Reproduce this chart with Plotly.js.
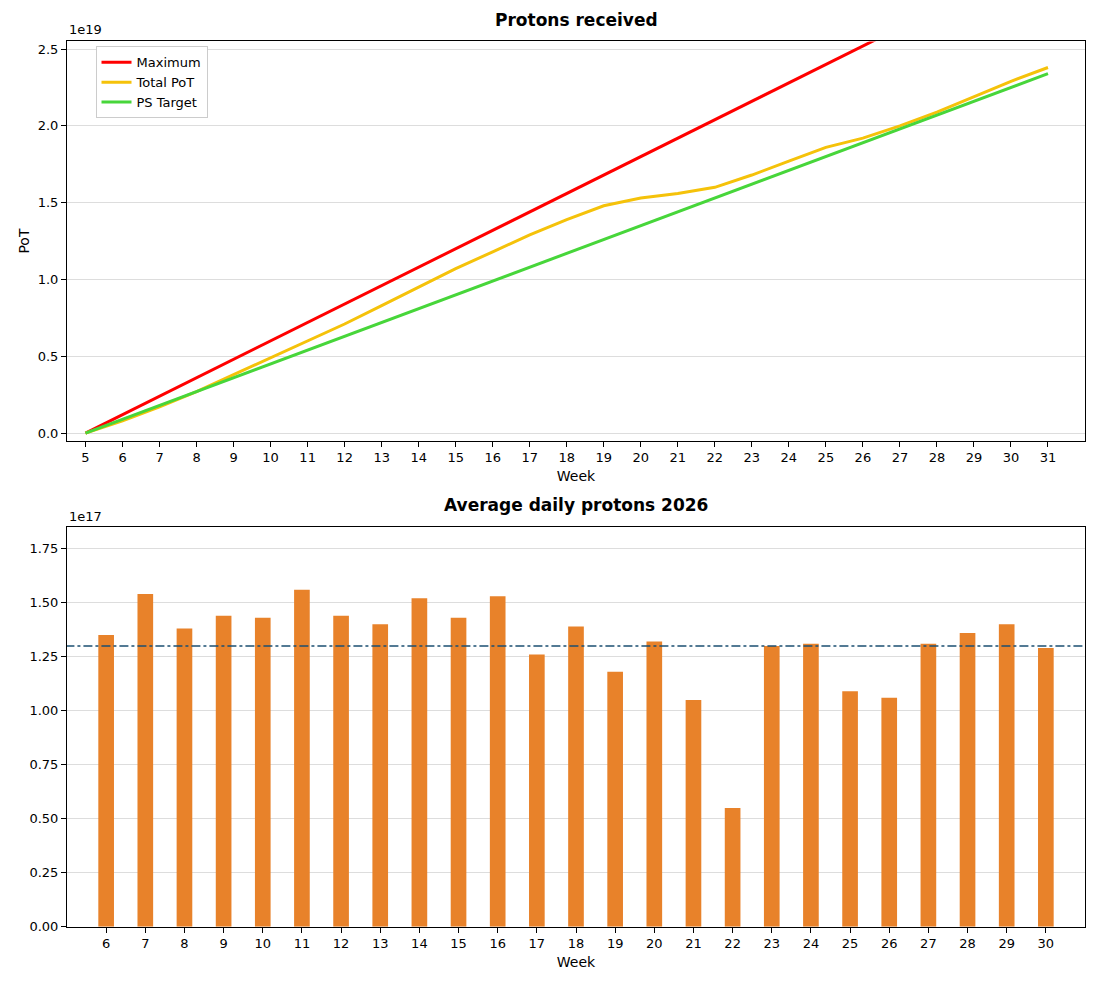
<!DOCTYPE html>
<html><head><meta charset="utf-8">
<script src="https://cdn.plot.ly/plotly-3.0.1.min.js"></script>
<style>body{margin:0}</style></head>
<body><div id="chart" style="width:1100px;height:986px"></div>
<script>
// cumulative PoT, units of 1e19
const weeks = [5,6,7,8,9,10,11,12,13,14,15,16,17,18,19,20,21,22,23,24,25,26,27,28,29,30,31];
const maximum = [0,0.12,0.24,0.36,0.48,0.60,0.72,0.84,0.96,1.08,1.20,1.32,1.44,1.56,1.68,1.80,1.92,2.04,2.16,2.28,2.40,2.52,2.64,2.76,2.88,3.00,3.12];
const totalPot = [0,0.08,0.17,0.27,0.38,0.49,0.60,0.71,0.83,0.95,1.07,1.18,1.29,1.39,1.48,1.53,1.56,1.60,1.68,1.77,1.86,1.92,2.00,2.09,2.19,2.29,2.38];
const psTarget = [0,0.09,0.18,0.27,0.36,0.45,0.54,0.63,0.72,0.81,0.90,0.99,1.08,1.17,1.26,1.35,1.44,1.53,1.62,1.71,1.80,1.89,1.98,2.07,2.16,2.25,2.34];

// average daily protons, units of 1e17
const barWeeks = [6,7,8,9,10,11,12,13,14,15,16,17,18,19,20,21,22,23,24,25,26,27,28,29,30];
const daily = [1.35,1.54,1.38,1.44,1.43,1.56,1.44,1.40,1.52,1.43,1.53,1.26,1.39,1.18,1.32,1.05,0.55,1.30,1.31,1.09,1.06,1.31,1.36,1.40,1.29];
const target = 1.30;

const line = (y, name, color) => ({x: weeks, y: y, name: name, type: 'scatter', mode: 'lines',
  line: {color: color, width: 3}, xaxis: 'x', yaxis: 'y'});

const data = [
  line(maximum, 'Maximum', '#ff0000'),
  line(totalPot, 'Total PoT', '#f5c20a'),
  line(psTarget, 'PS Target', '#47d63a'),
  {x: barWeeks, y: daily, type: 'bar', width: 0.4, marker: {color: '#e8822a'},
   xaxis: 'x2', yaxis: 'y2', showlegend: false},
  {x: [4.5, 31.5], y: [target, target], type: 'scatter', mode: 'lines',
   line: {color: '#1b4f72', width: 1.5, dash: 'dashdot'}, xaxis: 'x2', yaxis: 'y2', showlegend: false}
];

const ax = {showline: true, mirror: true, linecolor: 'black', ticks: 'outside', tickcolor: 'black',
  zeroline: false, tickfont: {size: 13, color: 'black'}};
const layout = {
  width: 1100, height: 986, margin: {l: 67, r: 15, t: 0, b: 0},
  paper_bgcolor: 'white', plot_bgcolor: 'white',
  font: {family: 'DejaVu Sans', color: 'black'},
  xaxis: Object.assign({}, ax, {domain: [0, 1], range: [4.5, 32], tickmode: 'array', tickvals: weeks,
    showgrid: false, anchor: 'y', title: {text: 'Week', font: {size: 14}, standoff: 6}}),
  yaxis: Object.assign({}, ax, {domain: [0.553, 0.958], range: [-0.05, 2.55], dtick: 0.5, tickformat: '.1f',
    gridcolor: '#dddddd', anchor: 'x', title: {text: 'PoT', font: {size: 14}}}),
  xaxis2: Object.assign({}, ax, {domain: [0, 1], range: [5, 31], tickmode: 'array', tickvals: barWeeks,
    showgrid: false, anchor: 'y2', title: {text: 'Week', font: {size: 14}, standoff: 6}}),
  yaxis2: Object.assign({}, ax, {domain: [0.06, 0.4655], range: [0, 1.85], dtick: 0.25, tickformat: '.2f',
    gridcolor: '#dddddd', anchor: 'x2'}),
  legend: {x: 0.028, y: 0.953, xanchor: 'left', yanchor: 'top', bgcolor: 'white',
    bordercolor: '#cccccc', borderwidth: 1, font: {size: 13}},
  annotations: [
    {text: '<b>Protons received</b>', xref: 'paper', yref: 'paper', x: 0.5, y: 0.968, yanchor: 'bottom', showarrow: false, font: {size: 17}},
    {text: '<b>Average daily protons 2026</b>', xref: 'paper', yref: 'paper', x: 0.5, y: 0.476, yanchor: 'bottom', showarrow: false, font: {size: 17}},
    {text: '1e19', xref: 'paper', yref: 'paper', x: 0, y: 0.96, xanchor: 'left', yanchor: 'bottom', showarrow: false, font: {size: 13}},
    {text: '1e17', xref: 'paper', yref: 'paper', x: 0, y: 0.467, xanchor: 'left', yanchor: 'bottom', showarrow: false, font: {size: 13}}
  ]
};
Plotly.newPlot('chart', data, layout, {displayModeBar: false});
</script></body></html>
